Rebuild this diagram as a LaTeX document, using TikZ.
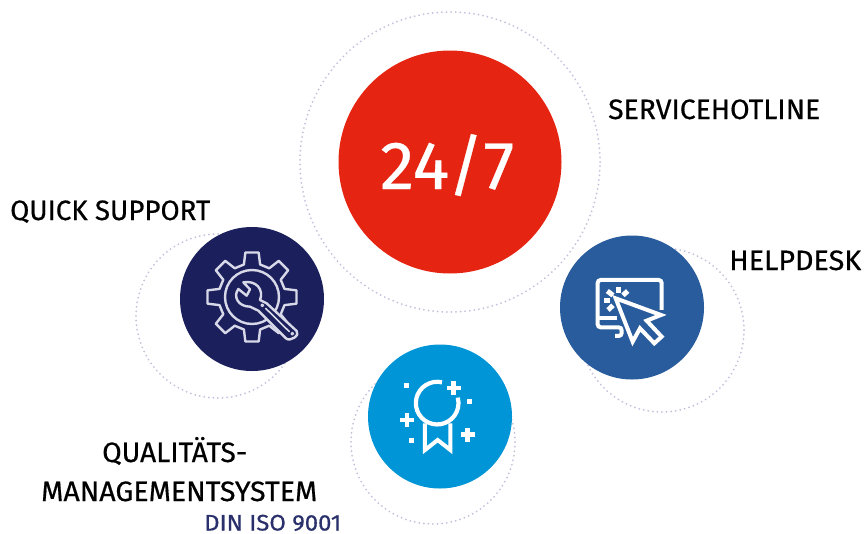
\documentclass[tikz,border=0pt]{standalone}
\usepackage{graphicx}
\usepackage{fontspec}
\setmainfont{Fira Sans}[FakeBold=0.5]
\definecolor{cred}{HTML}{E62412}
\definecolor{cnavy}{HTML}{1B1F5C}
\definecolor{cblue}{HTML}{295C9C}
\definecolor{ccyan}{HTML}{0095D6}
\definecolor{cring}{HTML}{C4C1DC}
\definecolor{cgear}{HTML}{D8D9E8}
\definecolor{cdin}{HTML}{29306B}
\newcommand{\fitlabel}[3]{\resizebox{#1pt}{\height}{\fontsize{#2pt}{#2pt}\selectfont #3}}
\tikzset{
  disc/.style={circle,draw=none,inner sep=0pt,minimum size=144pt},
  ringline/.style={circle,draw=cring,inner sep=0pt,line width=2pt,line cap=round,dash pattern=on 0pt off 4.6pt},
  lab/.style={anchor=base west,inner sep=0pt,text=black},
  gearline/.style={draw=cgear,line width=2.4pt,line join=round,line cap=round},
  iconline/.style={draw=white,line width=4pt,line join=miter},
  iconfill/.style={fill=white,draw=none}
}
\begin{document}
\begin{tikzpicture}[x=1pt,y=-1pt]
\useasboundingbox (0,0) rectangle (864,533);
\fill[white] (0,0) rectangle (864,533);
% dotted rings
\node[ringline,minimum size=300pt] (ringred) at (450,162) {};
\node[ringline,minimum size=164pt] (ringnavy) at (218,316) {};
\node[ringline,minimum size=164pt] (ringblue) at (662,330) {};
\node[ringline,minimum size=164pt] (ringcyan) at (433,442) {};
% discs
\node[disc,fill=cred,minimum size=223pt] (red) at (450,162) {};
\node[disc,fill=cnavy] (navy) at (252,299) {};
\node[disc,fill=cblue] (blue) at (632,307.5) {};
\node[disc,fill=ccyan] (cyan) at (440,416.5) {};
% 24/7
\node[lab,text=white] (hours) at (380,189) {\fitlabel{134}{68}{24/7}};
% gear icon
\begin{scope}[shift={(252,297)}]
  \foreach \a in {0,45,...,315}
    \draw[gearline] (\a+14:33.5) -- (\a+8.5:45) -- (\a-8.5:45) -- (\a-14:33.5) -- (\a-31:33.5);
  \draw[gearline] (0,0) circle (27);
\end{scope}
\begin{scope}[shift={(200,245)},scale=0.3333]
  \fill[cnavy] (175,200) -- (205,170) -- (185,150) -- (150,190) -- cycle;
  \draw[gearline,fill=cnavy] (130,112) -- (150,133) -- (140,152) -- (115,132)
     .. controls (98,155) and (115,185) .. (150,185) -- (175,197) -- (258,280)
     .. controls (270,292) and (302,270) .. (290,258) -- (200,175) -- (180,165)
     .. controls (192,135) and (170,105) .. (130,112) -- cycle;
  \draw[gearline,line width=1.6pt] (197,190) -- (268,260);
  \draw[gearline,line width=1.2pt] (187,181) circle (4);
  \draw[gearline,line width=1.2pt] (277,266) circle (4);
\end{scope}
% cursor icon
\begin{scope}[shift={(550,230)},scale=0.3333]
  \draw[iconline,rounded corners=3pt] (335,240) -- (335,150) -- (143,150) -- (143,292) -- (215,292) -- (215,318) -- (195,318);
  \draw[iconline] (148,265) -- (200,265);
  \draw[iconline,fill=cblue] (197,205) -- (333,255) -- (290,272) -- (335,320) -- (313,340) -- (270,295) -- (248,335) -- cycle;
  \draw[iconline,line width=5pt] (204,171) -- (204,189);
  \draw[iconline,line width=5pt] (219,196) -- (233,183);
  \draw[iconline,line width=5pt] (172,183) -- (189,196);
  \draw[iconline,line width=5pt] (163,211) -- (181,211);
  \draw[iconline,line width=5pt] (174,240) -- (189,226);
\end{scope}
% medal icon
\begin{scope}[shift={(345,340)},scale=0.3333]
  \draw[iconline,line width=4.2pt] (291,127) arc[start angle=-77,end angle=-360-15,radius=64];
  \draw[iconline] (240,250) -- (240,330) -- (278,300) -- (316,330) -- (316,250);
  \foreach \p in {(326,143),(186,241),(368,284)} {
    \fill[white] \p ++(-21,-6.5) rectangle ++(42,13);
    \fill[white] \p ++(-6.5,-21) rectangle ++(13,42);
  }
  \foreach \p in {(186,136),(375,184),(200,303)}
    \fill[white] \p ++(-7.5,-7.5) rectangle ++(15,15);
\end{scope}
% labels
\node[lab] (hotline) at (608,119) {\fitlabel{212}{28}{SERVICEHOTLINE}};
\node[lab] (quick) at (10,220) {\fitlabel{200}{28}{QUICK SUPPORT}};
\node[lab] (help) at (729,270) {\fitlabel{132}{28}{HELPDESK}};
\node[lab] (qual) at (102,462) {\fitlabel{145}{28}{QUALITÄTS-}};
\node[lab] (mgmt) at (41,501) {\fitlabel{276}{28}{MANAGEMENTSYSTEM}};
\node[lab,text=cdin] (din) at (204,530.5) {\fitlabel{137}{22.5}{DIN ISO 9001}};
\end{tikzpicture}
\end{document}
